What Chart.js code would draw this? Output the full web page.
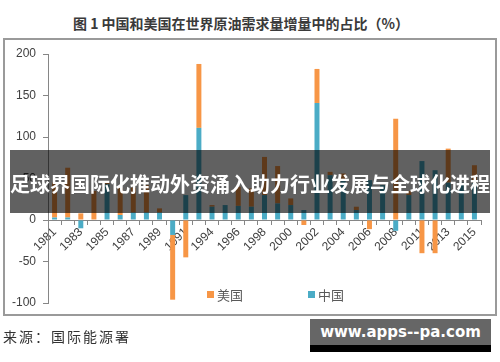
<!DOCTYPE html>
<html><head><meta charset="utf-8">
<script src="https://cdn.jsdelivr.net/npm/chart.js@4.4.1/dist/chart.umd.min.js"></script>
<style>
html,body{margin:0;padding:0;background:#fff;}
#wrap{position:relative;width:500px;height:362px;overflow:hidden;font-family:"Noto Sans CJK SC",sans-serif;}
#title{position:absolute;left:73px;top:13px;font-size:14px;font-weight:700;color:#3a3a3a;white-space:nowrap;line-height:20px;}
#frame{position:absolute;left:3px;top:38px;width:494px;height:278px;border:2px solid #9a9a9a;box-sizing:border-box;}
#chart{position:absolute;left:0;top:0;}
#banner{position:absolute;left:10px;top:150px;width:480px;height:63px;background:rgba(0,0,0,0.62);color:#fff;font-size:20px;font-weight:700;text-align:center;line-height:20px;box-sizing:border-box;padding-top:24px;white-space:nowrap;}
#source{position:absolute;left:3px;top:326px;font-size:14px;letter-spacing:2px;color:#333;white-space:nowrap;line-height:20px;}
#wm{position:absolute;left:310px;top:319px;width:181px;height:26px;background:#666;color:#fff;font-family:"DejaVu Sans",sans-serif;font-weight:700;font-size:15px;line-height:26px;text-align:center;}
#wmb{position:absolute;left:310px;top:345px;width:181px;height:7px;background:#000;}
</style></head>
<body>
<div id="wrap">
  <div id="title">图 1 中国和美国在世界原油需求量增量中的占比（%）</div>
  <div id="frame"></div>
  <canvas id="chart" width="500" height="362"></canvas>
  <div id="banner">足球界国际化推动外资涌入助力行业发展与全球化进程</div>
  <div id="source">来源：国际能源署</div>
  <div id="wm">www.apps--pa.com</div>
  <div id="wmb"></div>
</div>
<script>
const years = ['1981','1982','1983','1984','1985','1986','1987','1988','1989','1990','1991','1993','1994','1995','1996','1997','1998','1999','2000','2001','2002','2003','2004','2005','2006','2007','2008','2010','2011','2012','2013','2014','2015'];
const chinaShare = [3,3,-10,0,43,6,9,9,9,-18,30,111,16,18,17,16,30,20,18,12,141,54,48,12,48,42,-13,30,71,60,45,45,45];
const usShare = [42,60,8,35,2,33,30,33,5,-78,-45,77,2,0,23,22,46,45,8,-6,41,4,8,4,-11,0,122,5,-40,-40,41,0,21];
const yMin = -100, yMax = 200, yStep = 50;
const seriesNames = ['中国','美国'];
const seriesColors = ['#4BACC6','#F79646'];

const legendPlugin = {
  id:'customLegend',
  afterDraw(chart){
    const ctx = chart.ctx;
    const ds = chart.data.datasets;
    const order = [1,0];
    const startX = [207,308];
    const y = 295;
    ctx.save();
    ctx.font = '13px "Noto Sans CJK SC", sans-serif';
    ctx.textBaseline = 'middle';
    order.forEach((di,k)=>{
      ctx.fillStyle = ds[di].backgroundColor;
      ctx.fillRect(startX[k], y-4, 7, 7);
      ctx.fillStyle = '#595959';
      ctx.fillText(ds[di].label, startX[k]+10, y);
    });
    ctx.restore();
  }
};

new Chart(document.getElementById('chart'), {
  type:'bar',
  data:{
    labels: years,
    datasets:[
      {label:seriesNames[0], data:chinaShare, backgroundColor:seriesColors[0]},
      {label:seriesNames[1], data:usShare, backgroundColor:seriesColors[1]}
    ]
  },
  options:{
    responsive:false,
    animation:false,
    layout:{padding:{left:0,right:19,top:54,bottom:59}},
    datasets:{bar:{categoryPercentage:1, barPercentage:0.38}},
    plugins:{legend:{display:false}, tooltip:{enabled:false}},
    scales:{
      x:{
        stacked:true,
        position:{y:0},
        grid:{drawOnChartArea:false, drawTicks:true, tickLength:4, color:'#868686', offset:true},
        border:{color:'#868686', width:1},
        ticks:{autoSkip:false, maxRotation:45, minRotation:45, padding:1, color:'#404040',
          font:{family:'"Liberation Sans", Arial, sans-serif', size:12},
          callback:function(v,i){ return i%2===0 ? this.getLabelForValue(v) : ''; }}
      },
      y:{
        stacked:true, min:yMin, max:yMax,
        grid:{drawOnChartArea:false, drawTicks:true, tickLength:5, color:'#868686'},
        border:{color:'#868686', width:1},
        ticks:{stepSize:yStep, padding:7, color:'#404040',
          font:{family:'"Liberation Sans", Arial, sans-serif', size:12}},
        afterFit(s){ s.width = 48; }
      }
    }
  },
  plugins:[legendPlugin]
});
</script>
</body></html>
